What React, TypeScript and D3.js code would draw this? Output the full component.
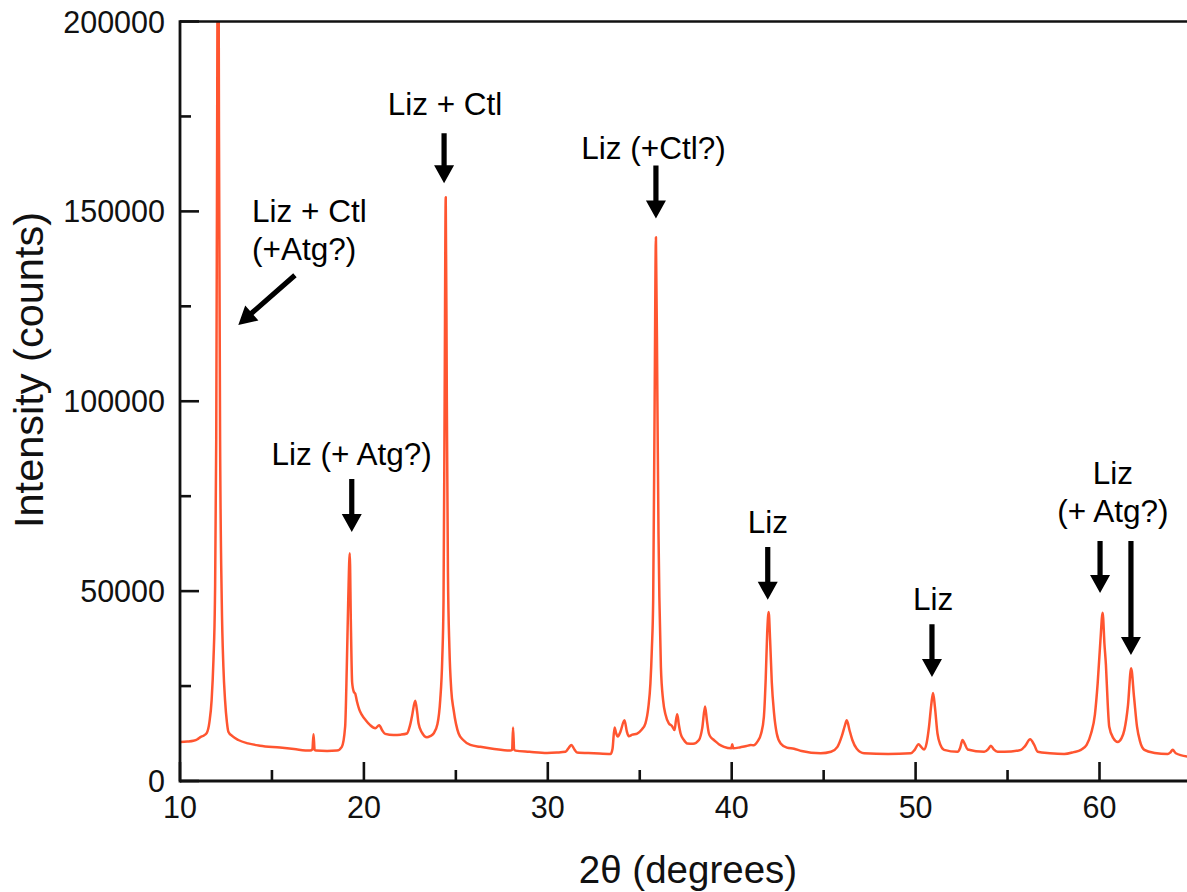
import React from "react";
import * as d3 from "d3";

// ---- data ----
const twoTheta: number[] = [
  10.0, 10.4, 10.73, 10.95, 11.09, 11.3, 11.45, 11.6, 11.72, 11.82, 11.9, 11.97, 12.02, 12.07, 12.12, 12.18, 12.27, 12.36, 12.45, 12.55,
  12.63, 12.85, 13.17, 13.7, 14.35, 15.44, 16.2, 17.08, 17.2, 17.26, 17.32, 17.4, 18.0, 18.53, 18.8, 18.98, 19.07, 19.15, 19.23, 19.29,
  19.36, 19.45, 19.53, 19.62, 19.75, 19.89, 20.1, 20.34, 20.62, 20.83, 21.0, 21.16, 21.61, 22.0, 22.34, 22.5, 22.61, 22.79, 22.9, 22.97,
  23.15, 23.43, 23.6, 23.79, 24.0, 24.15, 24.26, 24.33, 24.39, 24.45, 24.51, 24.57, 24.65, 24.75, 24.88, 25.15, 25.4, 25.79, 26.33, 27.0,
  27.96, 28.06, 28.11, 28.17, 28.24, 29.0, 29.96, 30.5, 30.96, 31.15, 31.28, 31.45, 31.59, 32.5, 33.41, 33.52, 33.63, 33.72, 33.81, 33.95,
  34.17, 34.3, 34.4, 34.6, 34.86, 35.1, 35.31, 35.47, 35.58, 35.66, 35.73, 35.81, 35.88, 35.96, 36.02, 36.07, 36.15, 36.27, 36.4, 36.58,
  36.75, 36.89, 36.97, 37.04, 37.12, 37.22, 37.4, 37.58, 37.9, 38.22, 38.4, 38.55, 38.65, 38.76, 38.9, 39.03, 39.3, 39.58, 39.98, 40.03,
  40.08, 40.48, 40.8, 41.03, 41.2, 41.39, 41.6, 41.75, 41.85, 41.93, 42.01, 42.09, 42.18, 42.3, 42.45, 42.66, 43.0, 43.39, 43.8, 44.84,
  45.4, 45.75, 46.0, 46.15, 46.26, 46.4, 46.56, 46.8, 47.2, 48.5, 49.74, 49.95, 50.16, 50.3, 50.46, 50.6, 50.73, 50.85, 50.95, 51.05,
  51.19, 51.35, 51.55, 52.28, 52.42, 52.55, 52.68, 52.83, 53.73, 53.95, 54.09, 54.25, 54.46, 55.2, 55.73, 55.95, 56.23, 56.45, 56.64, 57.3,
  58.08, 58.6, 58.99, 59.3, 59.54, 59.75, 59.9, 60.05, 60.17, 60.27, 60.35, 60.45, 60.53, 60.75, 60.99, 61.2, 61.35, 61.55, 61.72, 61.88,
  62.04, 62.2, 62.44, 63.0, 63.71, 63.85, 63.98, 64.15, 64.82,
];

const intensity: number[] = [
  10300, 10400, 10600, 11000, 11500, 12000, 12600, 15500, 21300, 32000, 47600, 90000, 170000, 260000, 170000, 90000, 47600, 30000, 21300, 15500,
  13000, 11800, 10800, 9900, 9300, 8800, 8400, 8000, 8300, 12300, 8200, 8000, 7900, 8000, 9000, 14300, 30000, 48000, 60000, 42000,
  26000, 23500, 23000, 21000, 18800, 17400, 16000, 14700, 13900, 14700, 13300, 12400, 12100, 12200, 12500, 14500, 16900, 21100, 18000, 15200,
  12800, 11500, 11800, 12500, 15000, 21300, 32000, 47600, 100000, 153700, 100000, 55000, 35000, 24000, 18700, 12500, 10800, 9500, 9000, 8500,
  8000, 8200, 14100, 8300, 8000, 7700, 7400, 7500, 7700, 8800, 9500, 8300, 7500, 7300, 7100, 8500, 14100, 12500, 11700, 13000,
  16000, 13000, 11800, 12200, 12500, 13500, 15200, 19500, 25700, 35000, 47600, 100000, 143200, 100000, 65000, 47600, 30000, 21300, 17500, 15200,
  14500, 13400, 16000, 17600, 15000, 12500, 10800, 9900, 9800, 10800, 14000, 19600, 16000, 12500, 11300, 10800, 9700, 9000, 8600, 9700,
  8600, 8900, 9200, 9500, 9400, 10300, 12500, 16900, 27000, 39000, 44500, 37000, 26000, 18000, 12500, 9900, 8800, 8500, 7900, 7300,
  7700, 9000, 12000, 14500, 16000, 13500, 10800, 8500, 7300, 7100, 7300, 8200, 9700, 9000, 8300, 10000, 14300, 20000, 23200, 19500,
  12500, 9500, 8200, 7700, 8700, 10800, 9700, 8300, 7700, 8400, 9300, 8300, 7700, 7800, 8200, 9200, 11000, 9500, 7700, 7300,
  7100, 7600, 8200, 9500, 12500, 17500, 25700, 37000, 44300, 36000, 30500, 20000, 14300, 11300, 10300, 11300, 13400, 20000, 29700, 22000,
  14300, 10500, 8200, 7400, 7100, 7500, 8200, 7300, 6400,
];

const xMajorTicks: number[] = [10, 20, 30, 40, 50, 60];
const xMinorTicks: number[] = [15, 25, 35, 45, 55];
const yMajorTicks: number[] = [0, 50000, 100000, 150000, 200000];
const yMinorTicks: number[] = [25000, 75000, 125000, 175000];

// annotation labels (data coordinates)
const annLines: string[][] = [
  ["Liz + Ctl", "(+Atg?)"],
  ["Liz + Ctl"],
  ["Liz (+ Atg?)"],
  ["Liz (+Ctl?)"],
  ["Liz"],
  ["Liz"],
  ["Liz", "(+ Atg?)"],
];
const annX: number[] = [13.92, 24.41, 19.33, 35.75, 41.97, 50.95, 60.73];
const annY: number[] = [147200, 175400, 83200, 163700, 65300, 45000, 78200];
const annAnchor: string[] = ["start", "middle", "middle", "middle", "middle", "middle", "middle"];

// arrows: from (x1,y1) to tip (x2,y2), data coordinates
const arrowX1: number[] = [16.25, 24.36, 19.34, 35.88, 41.96, 50.89, 60.03, 61.71];
const arrowY1: number[] = [133200, 170600, 79500, 162100, 61600, 41300, 63200, 63200];
const arrowX2: number[] = [13.17, 24.36, 19.34, 35.88, 41.96, 50.89, 60.03, 61.71];
const arrowY2: number[] = [120100, 157400, 65600, 148100, 47700, 27400, 49500, 33200];

const W = 1187;
const H = 892;
const M = { left: 180, top: 21.5, bottom: 781 };
const FONT = "'Liberation Sans', Arial, Helvetica, sans-serif";

function arrowPath(x1: number, y1: number, x2: number, y2: number): string {
  const dx = x2 - x1;
  const dy = y2 - y1;
  const len = Math.hypot(dx, dy);
  const ux = dx / len;
  const uy = dy / len;
  const px = -uy;
  const py = ux;
  const headLen = 18;
  const headW = 10;
  const shaftW = 2.6;
  const bx = x2 - ux * headLen;
  const by = y2 - uy * headLen;
  const pts: [number, number][] = [
    [x1 + px * shaftW, y1 + py * shaftW],
    [bx + px * shaftW, by + py * shaftW],
    [bx + px * headW, by + py * headW],
    [x2, y2],
    [bx - px * headW, by - py * headW],
    [bx - px * shaftW, by - py * shaftW],
    [x1 - px * shaftW, y1 - py * shaftW],
  ];
  return "M" + pts.map((p) => p[0].toFixed(2) + "," + p[1].toFixed(2)).join("L") + "Z";
}

export default function App() {
  const x = d3.scaleLinear().domain([10, 65]).range([M.left, M.left + 55 * 18.39]);
  const y = d3.scaleLinear().domain([0, 200000]).range([M.bottom, M.top]);

  const pts = twoTheta.map((t, i) => [t, intensity[i]] as [number, number]);
  const line = d3
    .line<[number, number]>()
    .x((d) => x(d[0]))
    .y((d) => y(d[1]))
    .curve(d3.curveMonotoneX);

  const xEnd = W + 10;

  return (
    <svg
      width={W}
      height={H}
      style={{ position: "absolute", left: 0, top: 0, background: "#fff" }}
      fontFamily={FONT}
    >
      <defs>
        <clipPath id="plotclip">
          <rect x={M.left} y={M.top} width={xEnd - M.left} height={M.bottom - M.top} />
        </clipPath>
      </defs>

      {/* spectrum */}
      <path
        d={line(pts) || ""}
        fill="none"
        stroke="#ff5530"
        strokeWidth={2.5}
        strokeLinejoin="round"
        clipPath="url(#plotclip)"
      />

      {/* frame */}
      <line x1={M.left} x2={xEnd} y1={M.top} y2={M.top} stroke="#111" strokeWidth={2.6} />
      <line x1={M.left} x2={xEnd} y1={M.bottom} y2={M.bottom} stroke="#111" strokeWidth={2.8} />
      <line x1={M.left} x2={M.left} y1={M.top - 1.3} y2={M.bottom + 1.4} stroke="#111" strokeWidth={2.8} />

      {/* x ticks */}
      {xMajorTicks.map((t) => (
        <g key={"xM" + t}>
          <line x1={x(t)} x2={x(t)} y1={M.bottom} y2={M.bottom - 19} stroke="#111" strokeWidth={2.6} />
          <text x={x(t)} y={818} textAnchor="middle" fontSize={30.5} fill="#111">
            {t}
          </text>
        </g>
      ))}
      {xMinorTicks.map((t) => (
        <line key={"xm" + t} x1={x(t)} x2={x(t)} y1={M.bottom} y2={M.bottom - 11} stroke="#111" strokeWidth={2.6} />
      ))}

      {/* y ticks */}
      {yMajorTicks.map((t) => (
        <g key={"yM" + t}>
          <line x1={M.left} x2={M.left + 19} y1={y(t)} y2={y(t)} stroke="#111" strokeWidth={2.6} />
          <text x={165} y={y(t) + 11} textAnchor="end" fontSize={30.5} fill="#111">
            {t}
          </text>
        </g>
      ))}
      {yMinorTicks.map((t) => (
        <line key={"ym" + t} x1={M.left} x2={M.left + 11} y1={y(t)} y2={y(t)} stroke="#111" strokeWidth={2.6} />
      ))}

      {/* axis titles */}
      <text
        transform={`translate(43, 370) rotate(-90)`}
        textAnchor="middle"
        fontSize={41.5}
        fill="#111"
      >
        Intensity (counts)
      </text>
      <text x={688} y={883} textAnchor="middle" fontSize={38.5} fill="#111">
        2θ (degrees)
      </text>

      {/* annotations */}
      {annLines.map((lines, i) => (
        <text
          key={"ann" + i}
          x={x(annX[i])}
          y={y(annY[i])}
          textAnchor={annAnchor[i] as any}
          fontSize={31.5}
          fill="#000"
        >
          {lines.map((s, j) => (
            <tspan key={j} x={x(annX[i])} dy={j === 0 ? 0 : 38}>
              {s}
            </tspan>
          ))}
        </text>
      ))}
      {arrowX1.map((_, i) => (
        <path
          key={"arr" + i}
          d={arrowPath(x(arrowX1[i]), y(arrowY1[i]), x(arrowX2[i]), y(arrowY2[i]))}
          fill="#000"
        />
      ))}
    </svg>
  );
}
